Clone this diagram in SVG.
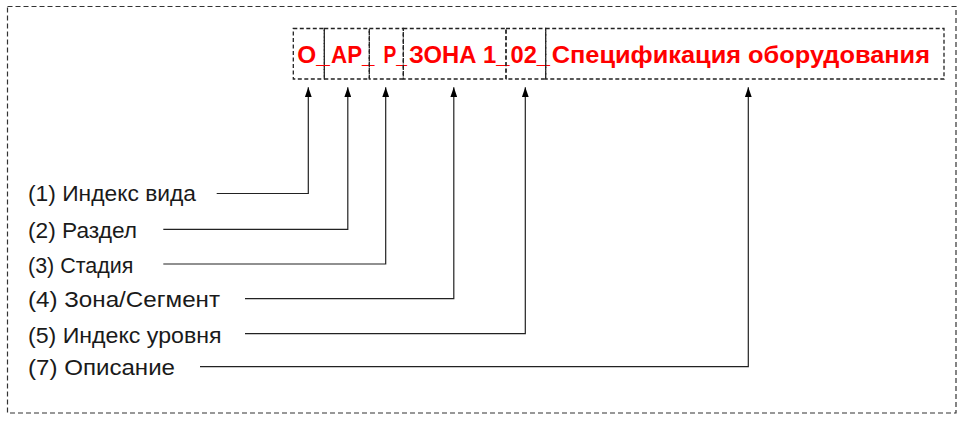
<svg xmlns="http://www.w3.org/2000/svg" width="963" height="422" viewBox="0 0 963 422">
<style>
.frame{fill:none;stroke:#333;stroke-width:1.2;stroke-dasharray:5 3}
.box{fill:none;stroke:#222;stroke-width:1.3;stroke-dasharray:4 2.5}
.code{font-family:"Liberation Sans","DejaVu Sans",sans-serif;font-weight:bold;font-size:23px;fill:#ff0000}
.lbl{font-family:"Liberation Sans","DejaVu Sans",sans-serif;font-size:22px;fill:#1a1a1a}
.conn{fill:none;stroke:#222;stroke-width:1.2;marker-end:url(#arr)}
</style>
<defs>
<marker id="arr" markerUnits="userSpaceOnUse" markerWidth="10" markerHeight="7" refX="10" refY="3.5" orient="auto">
<path d="M0,0 L10,3.5 L0,7 Z" fill="#000"/>
</marker>
</defs>
<rect width="963" height="422" fill="#fff"/>
<rect class="frame" x="7.5" y="6.5" width="948.5" height="406.5"/>

<g id="box-1"><rect class="box" x="293.3" y="28.5" width="31" height="50.5"/><text class="code" x="297.3" y="63" textLength="32.5" lengthAdjust="spacingAndGlyphs">O_</text></g>
<g id="box-2"><rect class="box" x="324.3" y="28.5" width="45" height="50.5"/><text class="code" x="331" y="63" textLength="43.5" lengthAdjust="spacingAndGlyphs">AP_</text></g>
<g id="box-3"><rect class="box" x="369.3" y="28.5" width="34" height="50.5"/><text class="code" x="383.5" y="63" textLength="23.5" lengthAdjust="spacingAndGlyphs">P_</text></g>
<g id="box-4"><rect class="box" x="403.3" y="28.5" width="102.7" height="50.5"/><text class="code" x="409" y="63" textLength="100.5" lengthAdjust="spacingAndGlyphs">ЗОНА 1_</text></g>
<g id="box-5"><rect class="box" x="506" y="28.5" width="39.7" height="50.5"/><text class="code" x="510.5" y="63" textLength="39.5" lengthAdjust="spacingAndGlyphs">02_</text></g>
<g id="box-6"><rect class="box" x="545.7" y="28.5" width="398.3" height="50.5"/><text class="code" x="551.7" y="63" textLength="378.3" lengthAdjust="spacingAndGlyphs">Спецификация оборудования</text></g>

<g id="label-1"><text class="lbl" x="28" y="200.5" textLength="168" lengthAdjust="spacingAndGlyphs">(1) Индекс вида</text></g>
<g id="label-2"><text class="lbl" x="28" y="237.5" textLength="109" lengthAdjust="spacingAndGlyphs">(2) Раздел</text></g>
<g id="label-3"><text class="lbl" x="28" y="272.5" textLength="105.5" lengthAdjust="spacingAndGlyphs">(3) Стадия</text></g>
<g id="label-4"><text class="lbl" x="28" y="307" textLength="192" lengthAdjust="spacingAndGlyphs">(4) Зона/Сегмент</text></g>
<g id="label-5"><text class="lbl" x="28" y="342.5" textLength="193.5" lengthAdjust="spacingAndGlyphs">(5) Индекс уровня</text></g>
<g id="label-7"><text class="lbl" x="28" y="375" textLength="147" lengthAdjust="spacingAndGlyphs">(7) Описание</text></g>

<g id="connectors">
<polyline class="conn" points="216.7,193.5 308.3,193.5 308.3,87.3"/>
<polyline class="conn" points="163.3,229.3 347.8,229.3 347.8,87.3"/>
<polyline class="conn" points="163.3,264 385.7,264 385.7,87.3"/>
<polyline class="conn" points="245,298.7 453.8,298.7 453.8,87.3"/>
<polyline class="conn" points="245,333.7 525.3,333.7 525.3,87.3"/>
<polyline class="conn" points="200,366.7 748.3,366.7 748.3,87.3"/>
</g>
</svg>
